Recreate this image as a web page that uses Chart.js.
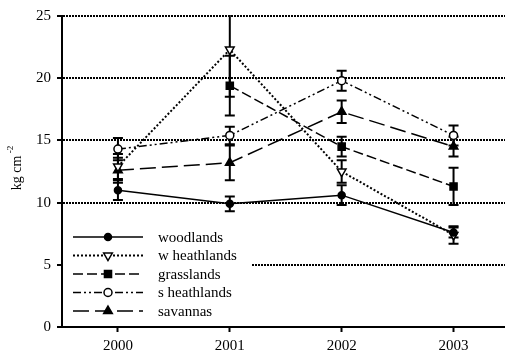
<!DOCTYPE html>
<html>
<head>
<meta charset="utf-8">
<script src="https://cdn.jsdelivr.net/npm/chart.js@4"></script>
<style>
  html, body { margin: 0; padding: 0; background: #fff; }
  #wrap { width: 505px; height: 355px; }
</style>
</head>
<body>
<div id="wrap"><canvas id="grafico"></canvas></div>
<script>
const years = [2000, 2001, 2002, 2003];
const yTicks = [0, 5, 10, 15, 20, 25];

const woodlands = [11.0, 9.9, 10.6, 7.6];
const woodlandsErr = [0.8, 0.6, 0.8, 0.4];
const wHeathlands = [12.9, 22.3, 12.5, 7.4];
const wHeathlandsErr = [1.0, 3.8, 0.9, 0.7];
const grasslands = [null, 19.4, 14.5, 11.3];
const grasslandsErr = [null, 2.4, 0.8, 1.5];
const sHeathlands = [14.3, 15.4, 19.8, 15.4];
const sHeathlandsErr = [0.9, 0.7, 0.8, 0.8];
const savannas = [12.6, 13.2, 17.3, 14.5];
const savannasErr = [1.0, 1.4, 0.9, 0.8];

const serif = '"Liberation Serif", "DejaVu Serif", serif';

const series = [
  { label: 'woodlands', values: woodlands, err: woodlandsErr,
    dash: [], width: 1.5, style: 'circle', radius: 3.5, rotation: 0, fill: '#000' },
  { label: 'w heathlands', values: wHeathlands, err: wHeathlandsErr,
    dash: [2, 2], width: 2, style: 'triangle', radius: 5, rotation: 180, fill: '#fff' },
  { label: 'grasslands', values: grasslands, err: grasslandsErr,
    dash: [10, 4], width: 1.5, style: 'rect', radius: 5, rotation: 0, fill: '#000' },
  { label: 's heathlands', values: sHeathlands, err: sHeathlandsErr,
    dash: [8, 3, 2, 3, 2, 3], width: 1.5, style: 'circle', radius: 4, rotation: 0, fill: '#fff' },
  { label: 'savannas', values: savannas, err: savannasErr,
    dash: [16, 6], width: 1.5, style: 'triangle', radius: 5, rotation: 0, fill: '#000' },
];

const datasets = series.map((s) => ({
  label: s.label,
  data: years.map((yr, i) => ({ x: yr, y: s.values[i] })),
  borderColor: '#000',
  borderWidth: s.width,
  borderDash: s.dash,
  pointStyle: s.style,
  pointRadius: s.radius,
  pointRotation: s.rotation,
  pointBackgroundColor: s.fill,
  pointBorderColor: '#000',
  pointBorderWidth: 1.5,
  tension: 0,
  fill: false,
}));

// barras de erro
const errorBars = {
  id: 'errorBars',
  beforeDatasetsDraw(chart) {
    const { ctx, chartArea, scales } = chart;
    const x = scales.x;
    const y = scales.y;
    ctx.save();
    ctx.beginPath();
    ctx.rect(chartArea.left, chartArea.top - 1, chartArea.width, chartArea.height + 1);
    ctx.clip();
    ctx.strokeStyle = '#000';
    ctx.lineWidth = 2;
    ctx.setLineDash([]);
    series.forEach((s) => {
      s.values.forEach((v, i) => {
        if (v === null) return;
        const px = x.getPixelForValue(years[i]);
        const top = y.getPixelForValue(v + s.err[i]);
        const bot = y.getPixelForValue(v - s.err[i]);
        ctx.beginPath();
        ctx.moveTo(px, top);
        ctx.lineTo(px, bot);
        ctx.moveTo(px - 5, top);
        ctx.lineTo(px + 5, top);
        ctx.moveTo(px - 5, bot);
        ctx.lineTo(px + 5, bot);
        ctx.stroke();
      });
    });
    ctx.restore();
  },
};

// legenda dentro do grafico + titulo do eixo y
const extras = {
  id: 'extras',
  afterDatasetsDraw(chart) {
    const { ctx, chartArea } = chart;
    ctx.save();
    ctx.fillStyle = '#fff';
    ctx.fillRect(chartArea.left + 1, 226, 250 - chartArea.left, chartArea.bottom - 227);

    series.forEach((s, i) => {
      const yy = 237 + i * 18.5;
      ctx.strokeStyle = '#000';
      ctx.lineWidth = s.width;
      ctx.setLineDash(s.dash);
      ctx.beginPath();
      ctx.moveTo(73, yy);
      ctx.lineTo(143, yy);
      ctx.stroke();
      ctx.setLineDash([]);
      ctx.fillStyle = s.fill;
      ctx.lineWidth = 1.5;
      Chart.helpers.drawPoint(ctx, {
        pointStyle: s.style,
        radius: s.radius,
        rotation: s.rotation,
        borderWidth: 1.5,
      }, 108, yy);
      ctx.fillStyle = '#000';
      ctx.font = '15px ' + serif;
      ctx.textAlign = 'left';
      ctx.textBaseline = 'middle';
      ctx.fillText(s.label, 158, yy + 1);
    });

    ctx.translate(17, 168);
    ctx.rotate(-Math.PI / 2);
    ctx.fillStyle = '#000';
    ctx.textBaseline = 'middle';
    ctx.textAlign = 'left';
    ctx.font = '14px ' + serif;
    const main = 'kg cm';
    const w1 = ctx.measureText(main).width;
    ctx.font = '9px ' + serif;
    const w2 = ctx.measureText(' -2').width;
    const start = -(w1 + w2) / 2;
    ctx.font = '14px ' + serif;
    ctx.fillText(main, start, 0);
    ctx.font = '9px ' + serif;
    ctx.fillText(' -2', start + w1, -6);
    ctx.restore();
  },
};

const ctx = document.getElementById('grafico');
new Chart(ctx, {
  type: 'line',
  data: { datasets },
  plugins: [errorBars, extras],
  options: {
    responsive: true,
    maintainAspectRatio: false,
    animation: false,
    layout: { autoPadding: false, padding: { top: 16, right: 0, left: 0, bottom: 0 } },
    plugins: {
      legend: { display: false },
      tooltip: { enabled: false },
    },
    scales: {
      x: {
        type: 'linear',
        min: 1999.5,
        max: 2003.46,
        afterBuildTicks: (scale) => {
          scale.ticks = years.map((v) => ({ value: v }));
        },
        afterFit: (scale) => {
          scale.height = 28;
        },
        ticks: {
          callback: (v) => String(v),
          color: '#000',
          font: { family: serif, size: 15 },
          padding: 5,
          maxRotation: 0,
        },
        grid: {
          drawOnChartArea: false,
          tickLength: 5,
          tickWidth: 2,
          tickColor: '#000',
        },
        border: { display: true, color: '#000', width: 2 },
      },
      y: {
        min: 0,
        max: 25,
        afterBuildTicks: (scale) => {
          scale.ticks = yTicks.map((v) => ({ value: v }));
        },
        afterFit: (scale) => {
          scale.width = 62;
        },
        ticks: {
          color: '#000',
          font: { family: serif, size: 15 },
          padding: 6,
        },
        grid: {
          color: (c) => (c.tick && c.tick.value === 0 ? 'rgba(0,0,0,0)' : '#000'),
          lineWidth: 2,
          tickLength: 5,
          tickWidth: 2,
          tickColor: '#000',
          tickBorderDash: [],
        },
        border: { display: true, color: '#000', width: 2, dash: [2, 1] },
      },
    },
  },
});
</script>
</body>
</html>
